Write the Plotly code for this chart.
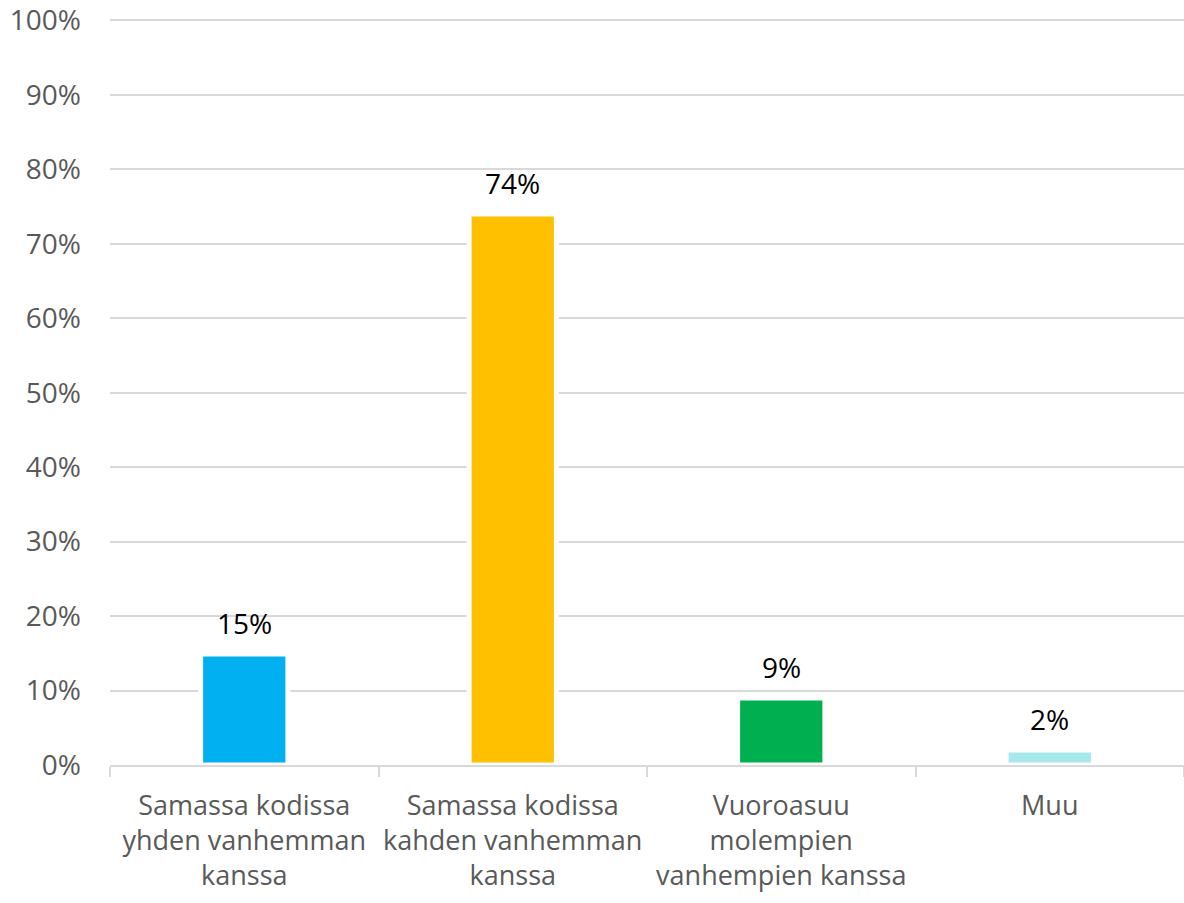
import plotly.graph_objects as go

categories = [
    "Samassa kodissa<br>yhden vanhemman<br>kanssa",
    "Samassa kodissa<br>kahden vanhemman<br>kanssa",
    "Vuoroasuu<br>molempien<br>vanhempien kanssa",
    "Muu",
]
values = [14.9, 74.0, 9.0, 2.0]
value_labels = ["15%", "74%", "9%", "2%"]
colors = ["#00B0F0", "#FFC000", "#00B050", "#A6E9ED"]
y_ticks = list(range(0, 101, 10))
y_tick_labels = [f"{v}%" for v in y_ticks]

fig = go.Figure()
fig.add_trace(go.Bar(
    x=categories,
    y=values,
    marker=dict(color=colors, line=dict(color="white", width=5)),
    hoverinfo="skip",
))

for c, v, t in zip(categories, values, value_labels):
    fig.add_annotation(x=c, y=v, text=t, showarrow=False, yanchor="middle",
                       yshift=31, font=dict(family="Open Sans", size=28, color="#000000"))

fig.update_layout(
    width=1184, height=903,
    margin=dict(l=110, r=0, t=18.5, b=137.5, autoexpand=False),
    plot_bgcolor="white", paper_bgcolor="white",
    bargap=0.675,
    showlegend=False,
    font=dict(family="Open Sans", color="#595959", size=27),
)
fig.update_yaxes(
    range=[0, 100.2], tickvals=y_ticks, ticktext=y_tick_labels,
    showgrid=True, gridcolor="#D9D9D9", gridwidth=1.5,
    zeroline=False, showline=False, ticks="",
    ticklabelstandoff=28, automargin=False, ticklabeloverflow="allow",
    tickfont=dict(family="Open Sans", size=28, color="#595959"),
)
fig.update_xaxes(
    showline=True, linecolor="#D9D9D9", linewidth=1.5,
    ticks="outside", tickson="boundaries", ticklen=10, tickcolor="#D9D9D9", tickwidth=1.5,
    showgrid=False, ticklabelstandoff=16, automargin=False, tickangle=0,
    tickfont=dict(family="Open Sans", size=27, color="#595959"),
)

fig.write_html("out.html",
               config={"displayModeBar": False},
               post_script="document.body.style.margin='0px';document.body.style.overflow='hidden';")
